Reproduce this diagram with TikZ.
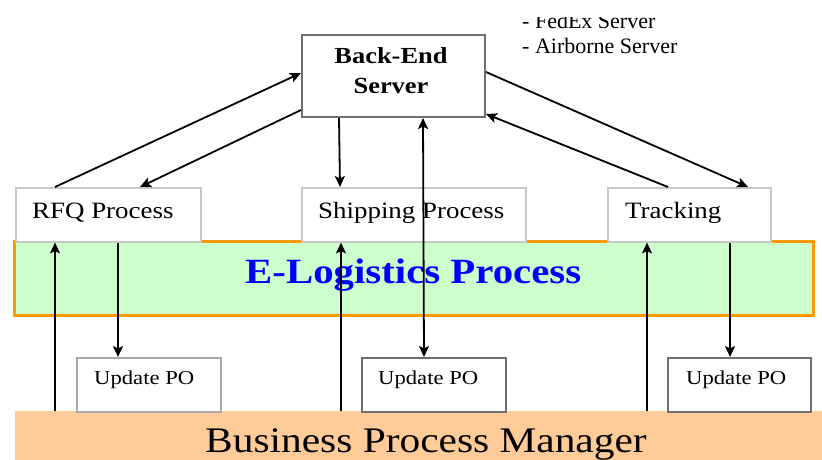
\documentclass[tikz,border=0pt]{standalone}
\usepackage{fontspec}
\setmainfont{Liberation Serif}[FakeStretch=1.15]
\newfontfamily\plainserif{Liberation Serif}
\usetikzlibrary{arrows.meta}
\definecolor{bandgreen}{HTML}{CCFFCC}
\definecolor{bandorange}{HTML}{FF9900}
\definecolor{peach}{HTML}{FFCC99}
\definecolor{lightedge}{HTML}{C8C8C8}
\definecolor{midedge}{HTML}{A8A8A8}
\definecolor{darkedge}{HTML}{707070}
\tikzset{
  procbox/.style={draw=lightedge, line width=1.5pt, fill=white, anchor=north west,
    minimum height=54pt, inner sep=0pt},
  updbox/.style={draw=darkedge, line width=1.8pt, fill=white, anchor=north west,
    minimum width=144pt, minimum height=54pt, inner sep=0pt},
  proctext/.style={anchor=base west, inner sep=0pt, font=\fontsize{23.4}{27}\selectfont},
  updtext/.style={anchor=base west, inner sep=0pt, font=\fontsize{19.7}{23}\selectfont},
  notetext/.style={anchor=base west, inner sep=0pt, font=\plainserif\fontsize{22}{25}\selectfont},
  tip/.tip={Stealth[length=11pt,width=10pt,inset=2.5pt]},
  conn/.style={line width=1.8pt, -tip},
  biconn/.style={line width=1.8pt, tip-tip},
}
\begin{document}
\begin{tikzpicture}[x=1pt, y=-1pt]
\useasboundingbox (0,0) rectangle (822,459);

% bands
\node[draw=bandorange, line width=3pt, fill=bandgreen, anchor=north west,
  minimum width=799pt, minimum height=74pt, inner sep=0pt] (elog) at (13,240) {};
\node[anchor=base west, inner sep=0pt, text=blue,
  font=\fontsize{35.5}{40}\selectfont\bfseries] (elogt) at (245,283) {E-Logistics Process};
\node[fill=peach, anchor=north west, minimum width=810pt, minimum height=50pt,
  inner sep=0pt] (bpm) at (15,411) {};
\node[anchor=base west, inner sep=0pt, font=\fontsize{36}{40}\selectfont] (bpmt)
  at (205,452) {Business Process Manager};

% back-end server and its carriers
\node[draw=darkedge, line width=2pt, fill=white, minimum width=183pt, minimum height=82pt,
  inner sep=0pt] (srv) at (393.5,76) {};
\node[align=center, inner sep=0pt, font=\fontsize{23}{30}\selectfont\bfseries] (srvt)
  at (391,71) {Back-End\\Server};
\begin{scope}
  \clip (0,17.5) rectangle (822,459);
  \node[notetext] (fedex) at (522,28) {- FedEx Server};
\end{scope}
\node[notetext] (airb) at (522,53) {- Airborne Server};

% process boxes
\node[procbox, minimum width=185pt] (rfq) at (15,187) {};
\node[proctext] (rfqt) at (32,218) {RFQ Process};
\node[procbox, minimum width=224pt] (ship) at (301,187) {};
\node[proctext] (shipt) at (318,218) {Shipping Process};
\node[procbox, minimum width=163pt] (trk) at (607,187) {};
\node[proctext] (trkt) at (625,218) {Tracking};

% purchase order updates
\node[updbox, draw=midedge] (upd1) at (76,357) {};
\node[updtext] (upd1t) at (94,384) {Update PO};
\node[updbox] (upd2) at (361,357) {};
\node[updtext] (upd2t) at (378,384) {Update PO};
\node[updbox, minimum width=143pt] (upd3) at (667,357) {};
\node[updtext] (upd3t) at (686,384) {Update PO};

% connectors to and from the server
\draw[conn] ([xshift=40pt]rfq.north west) -- ([yshift=3pt]srv.west);
\draw[conn] ([yshift=-34pt]srv.west) -- ([xshift=125pt]rfq.north west);
\draw[conn] ([xshift=38pt]srv.south west) -- ([xshift=39pt]ship.north west);
\draw[biconn] ([xshift=63pt]upd2.north west) -- ([xshift=122pt]srv.south west);
\draw[conn] ([xshift=61pt]trk.north west) -- ([yshift=-38pt]srv.east);
\draw[conn] ([yshift=4pt]srv.east) -- ([xshift=141pt]trk.north west);

% connectors from the process manager
\draw[conn] ([xshift=40pt]bpm.north west) -- ([xshift=40pt]rfq.south west);
\draw[conn] ([xshift=326pt]bpm.north west) -- ([xshift=40pt]ship.south west);
\draw[conn] ([xshift=632pt]bpm.north west) -- ([xshift=40pt]trk.south west);

% connectors down to the updates
\draw[conn] ([xshift=103pt]rfq.south west) -- ([xshift=42pt]upd1.north west);
\draw[conn] ([xshift=123pt]trk.south west) -- ([xshift=63pt]upd3.north west);
\end{tikzpicture}
\end{document}
